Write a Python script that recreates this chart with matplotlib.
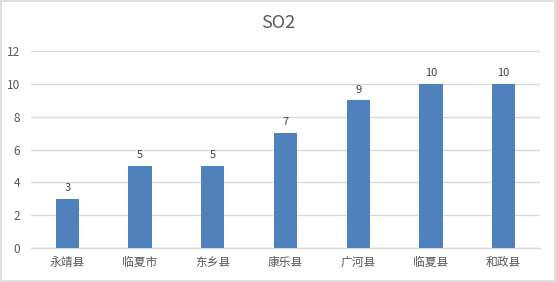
import matplotlib
matplotlib.use('Agg')
import matplotlib.pyplot as plt
from matplotlib.patches import Rectangle

plt.rcParams['font.family'] = ['Noto Sans CJK SC', 'DejaVu Sans']

counties = ['永靖县', '临夏市', '东乡县', '康乐县', '广河县', '临夏县', '和政县']
so2 = [3, 5, 5, 7, 9, 10, 10]
yticks = [0, 2, 4, 6, 8, 10, 12]

fig = plt.figure(figsize=(5.56, 2.82), dpi=100)
fig.patches.append(Rectangle((0.001, 0.002), 0.997, 0.995, transform=fig.transFigure,
                             fill=False, edgecolor='#d9d9d9', linewidth=1.2))
ax = fig.add_axes([0.0558, 0.1206, 0.9155, 0.6985])

x = range(len(counties))
bars = ax.bar(x, so2, width=0.32, color='#4f81bd', zorder=3)
for xi, v in zip(x, so2):
    ax.text(xi, v + 0.35, str(v), ha='center', va='bottom', fontsize=8, color='#404040')

ax.set_xlim(-0.5, len(counties) - 0.5)
ax.set_ylim(0, 12)
ax.set_yticks(yticks)
ax.set_xticks(list(x))
ax.set_xticklabels(counties)
ax.tick_params(axis='both', length=0, colors='#595959', labelsize=8.5)
ax.tick_params(axis='x', pad=6)
ax.tick_params(axis='y', pad=8)
ax.grid(axis='y', color='#d9d9d9', linewidth=1, zorder=0)
for s in ['top', 'right', 'left']:
    ax.spines[s].set_visible(False)
ax.spines['bottom'].set_color('#d9d9d9')
ax.spines['bottom'].set_linewidth(1)

fig.text(0.5, 0.92, 'SO2', ha='center', va='center', fontsize=13, color='#595959')

fig.savefig('out.png', dpi=100)
